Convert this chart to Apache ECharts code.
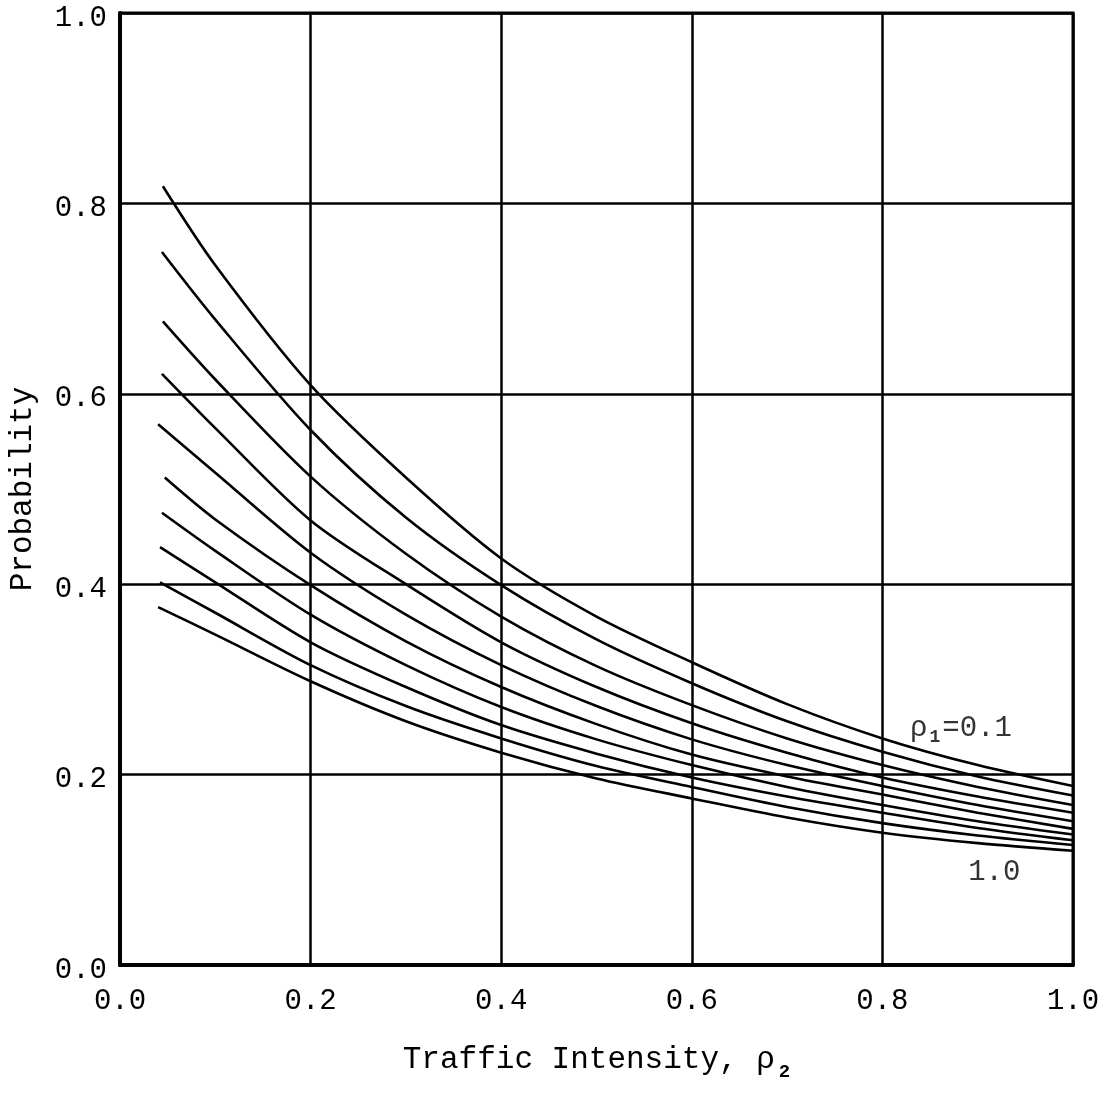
<!DOCTYPE html>
<html>
<head>
<meta charset="utf-8">
<script src="https://cdn.jsdelivr.net/npm/echarts@6/dist/echarts.min.js"></script>
<style>
html,body{margin:0;padding:0;background:#fff;}
#chart{width:1110px;height:1098px;}
</style>
</head>
<body>
<div id="chart"></div>
<script>
// rho1 values of the curves (top to bottom)
const rho1 = ['0.1','0.2','0.3','0.4','0.5','0.6','0.7','0.8','0.9','1.0'];
// starting rho2 of each curve
const startX = [0.045, 0.044, 0.045, 0.044, 0.040, 0.047, 0.044, 0.042, 0.042, 0.040];
// common rho2 sample points after the start
const xPts = [0.1, 0.2, 0.3, 0.4, 0.5, 0.6, 0.7, 0.8, 0.9, 1.0];
// probability values: first = at startX, then at xPts
const c01 = [0.818, 0.735, 0.609, 0.512, 0.427, 0.366, 0.318, 0.274, 0.238, 0.210, 0.188];
const c02 = [0.749, 0.678, 0.562, 0.470, 0.399, 0.342, 0.296, 0.256, 0.224, 0.198, 0.178];
const c03 = [0.676, 0.615, 0.513, 0.432, 0.366, 0.314, 0.273, 0.238, 0.210, 0.187, 0.168];
const c04 = [0.621, 0.564, 0.467, 0.400, 0.339, 0.292, 0.254, 0.223, 0.197, 0.177, 0.160];
const c05 = [0.568, 0.517, 0.433, 0.368, 0.315, 0.272, 0.237, 0.210, 0.188, 0.168, 0.151];
const c06 = [0.512, 0.468, 0.399, 0.340, 0.292, 0.253, 0.221, 0.198, 0.179, 0.160, 0.143];
const c07 = [0.475, 0.435, 0.368, 0.315, 0.271, 0.237, 0.210, 0.187, 0.168, 0.151, 0.137];
const c08 = [0.439, 0.402, 0.339, 0.292, 0.252, 0.222, 0.197, 0.177, 0.160, 0.144, 0.131];
const c09 = [0.402, 0.370, 0.315, 0.272, 0.238, 0.209, 0.187, 0.166, 0.149, 0.136, 0.126];
const c10 = [0.376, 0.347, 0.298, 0.256, 0.223, 0.196, 0.175, 0.155, 0.139, 0.128, 0.120];
const curves = [c01, c02, c03, c04, c05, c06, c07, c08, c09, c10];
// annotation anchor points (data coordinates)
const annotTop = [0.829, 0.249];
const annotBottom = [0.890, 0.097];

const FONT = '"Liberation Mono", "DejaVu Sans Mono", monospace';

const series = curves.map((vals, i) => {
  const pts = [[startX[i], vals[0]]];
  xPts.forEach((x, j) => pts.push([x, vals[j + 1]]));
  return {
    name: 'ρ1=' + rho1[i],
    type: 'line',
    data: pts,
    smooth: 0.3,
    symbol: 'none',
    lineStyle: { color: '#000', width: 2.6 },
    silent: true,
    z: 3
  };
});

series.push({
  type: 'scatter',
  symbolSize: 0,
  silent: true,
  data: [annotTop],
  label: {
    show: true, position: 'right', distance: 0,
    formatter: '{r|ρ}{s|1}{r|=0.1}',
    rich: {
      r: { fontFamily: FONT, fontSize: 29, color: '#000' },
      s: { fontFamily: FONT, fontSize: 18, color: '#000', fontWeight: 'bold', padding: [20, 2, 0, 2] }
    }
  }
});
series.push({
  type: 'scatter',
  symbolSize: 0,
  silent: true,
  data: [annotBottom],
  label: {
    show: true, position: 'right', distance: 0,
    formatter: rho1[rho1.length - 1],
    fontFamily: FONT, fontSize: 29, color: '#000'
  }
});

const chart = echarts.init(document.getElementById('chart'), null, { renderer: 'canvas' });
chart.setOption({
  backgroundColor: '#fff',
  animation: false,
  grid: {
    left: 120, right: 37, top: 13, bottom: 133,
    outerBoundsMode: 'none',
    containLabel: false,
    show: true, borderColor: '#000', borderWidth: 3
  },
  xAxis: {
    type: 'value', min: 0, max: 1, interval: 0.2,
    name: '{r|Traffic Intensity, ρ}{s|2}',
    nameLocation: 'middle', nameGap: 72,
    nameTextStyle: {
      rich: {
        r: { fontFamily: FONT, fontSize: 31, color: '#000' },
        s: { fontFamily: FONT, fontSize: 19, color: '#000', fontWeight: 'bold', padding: [26, 0, 0, 4] }
      }
    },
    axisLine: { show: true, lineStyle: { color: '#000', width: 4 } },
    axisTick: { show: false },
    axisLabel: {
      fontFamily: FONT, fontSize: 29, color: '#000', margin: 22,
      formatter: v => v.toFixed(1)
    },
    splitLine: { show: true, lineStyle: { color: '#000', width: 2.5 } }
  },
  yAxis: {
    type: 'value', min: 0, max: 1, interval: 0.2,
    name: 'Probability',
    nameLocation: 'middle', nameGap: 82, nameRotate: 90,
    nameTextStyle: { fontFamily: FONT, fontSize: 31, color: '#000' },
    axisLine: { show: true, lineStyle: { color: '#000', width: 4 } },
    axisTick: { show: false },
    axisLabel: {
      margin: 13,
      formatter: v => '{t|' + v.toFixed(1) + '}',
      rich: {
        t: { fontFamily: FONT, fontSize: 29, color: '#000', padding: [10, 0, 0, 0] }
      }
    },
    splitLine: { show: true, lineStyle: { color: '#000', width: 2.5 } }
  },
  series: series
});
</script>
</body>
</html>
